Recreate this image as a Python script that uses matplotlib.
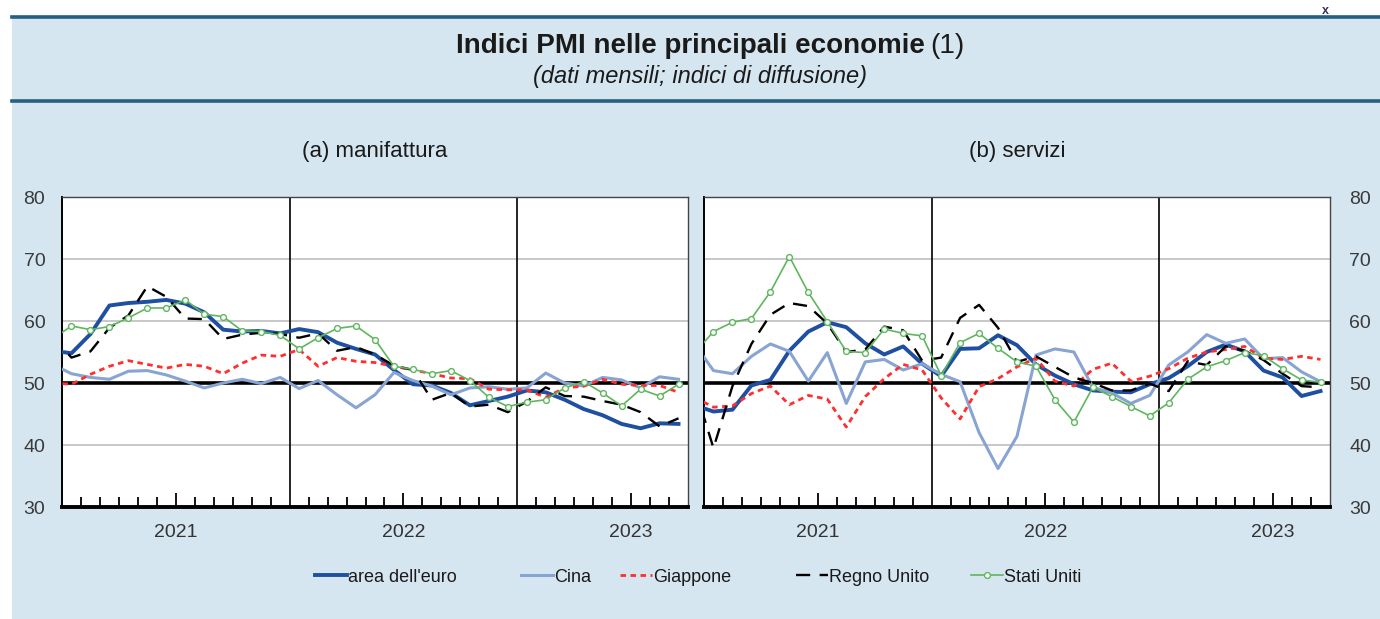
import numpy as np
import pandas as pd
import matplotlib
matplotlib.use("Agg")
import matplotlib.pyplot as plt
from matplotlib.lines import Line2D
from matplotlib.patches import Rectangle

plt.rcParams["font.family"] = ["Liberation Sans", "DejaVu Sans"]

# monthly data, Dec 2020 - Sep 2023 (Dec 2020 sits just left of the axis and gets clipped)
months = pd.period_range("2020-12", "2023-09", freq="M")
years = ["2021", "2022", "2023"]
labels = ["area dell'euro", "Cina", "Giappone", "Regno Unito", "Stati Uniti"]

# (a) manifattura
manuf_euro = [55.2, 54.8, 57.9, 62.5, 62.9, 63.1, 63.4, 62.8, 61.4, 58.6, 58.3, 58.4, 58.0,
              58.7, 58.2, 56.5, 55.5, 54.6, 52.1, 49.8, 49.6, 48.4, 46.4, 47.1, 47.8,
              48.8, 48.5, 47.3, 45.8, 44.8, 43.4, 42.7, 43.5, 43.4]
manuf_china = [53.0, 51.5, 50.9, 50.6, 51.9, 52.0, 51.3, 50.3, 49.2, 50.0, 50.6, 49.9, 50.9,
               49.1, 50.4, 48.1, 46.0, 48.1, 51.7, 50.4, 49.5, 48.1, 49.2, 49.4, 49.0,
               49.2, 51.6, 50.0, 49.5, 50.9, 50.5, 49.2, 51.0, 50.6]
manuf_japan = [50.0, 49.8, 51.4, 52.7, 53.6, 53.0, 52.4, 53.0, 52.7, 51.5, 53.2, 54.5, 54.3,
               55.4, 52.7, 54.1, 53.5, 53.3, 52.7, 52.1, 51.5, 50.8, 50.7, 49.0, 48.9,
               48.9, 47.7, 49.2, 49.5, 50.6, 49.8, 49.6, 49.6, 48.5]
manuf_uk = [57.5, 54.1, 55.1, 58.9, 60.9, 65.6, 63.9, 60.4, 60.3, 57.1, 57.8, 58.1, 57.9,
            57.3, 58.0, 55.2, 55.8, 54.6, 52.8, 52.1, 47.3, 48.4, 46.2, 46.5, 45.3,
            47.0, 49.3, 47.9, 47.8, 47.1, 46.5, 45.3, 43.0, 44.3]
manuf_us = [57.1, 59.2, 58.6, 59.1, 60.5, 62.1, 62.1, 63.4, 61.1, 60.7, 58.4, 58.3, 57.7,
            55.5, 57.3, 58.8, 59.2, 57.0, 52.7, 52.2, 51.5, 52.0, 50.4, 47.7, 46.2,
            46.9, 47.3, 49.2, 50.2, 48.4, 46.3, 49.0, 47.9, 49.8]

# (b) servizi
serv_euro = [46.4, 45.4, 45.7, 49.6, 50.5, 55.2, 58.3, 59.8, 59.0, 56.4, 54.6, 55.9, 53.1,
             51.1, 55.5, 55.6, 57.7, 56.1, 53.0, 51.2, 49.8, 48.8, 48.6, 48.5, 49.8,
             50.8, 52.7, 55.0, 56.2, 55.1, 52.0, 50.9, 47.9, 48.7]
serv_china = [56.3, 52.0, 51.5, 54.3, 56.3, 55.1, 50.3, 54.9, 46.7, 53.4, 53.8, 52.1, 53.1,
              51.4, 50.2, 42.0, 36.2, 41.4, 54.5, 55.5, 55.0, 49.3, 48.4, 46.7, 48.0,
              52.9, 55.0, 57.8, 56.4, 57.1, 53.9, 54.1, 51.8, 50.2]
serv_japan = [47.7, 46.1, 46.3, 48.3, 49.5, 46.5, 48.0, 47.4, 42.9, 47.8, 50.7, 53.0, 52.1,
              47.6, 44.2, 49.4, 50.7, 52.6, 54.0, 50.3, 49.5, 52.2, 53.2, 50.3, 51.1,
              52.3, 54.0, 55.0, 55.4, 55.9, 54.0, 53.8, 54.3, 53.8]
serv_uk = [49.4, 39.5, 49.5, 56.3, 61.0, 62.9, 62.4, 59.6, 55.0, 55.4, 59.1, 58.5, 53.6,
           54.1, 60.5, 62.6, 58.9, 53.4, 54.3, 52.6, 50.9, 50.0, 48.8, 48.8, 49.9,
           48.7, 53.5, 52.9, 55.9, 55.2, 53.7, 51.5, 49.5, 49.3]
serv_us = [54.8, 58.3, 59.8, 60.4, 64.7, 70.4, 64.6, 59.9, 55.1, 54.9, 58.7, 58.0, 57.6,
           51.2, 56.5, 58.0, 55.6, 53.4, 52.7, 47.3, 43.7, 49.3, 47.8, 46.2, 44.7,
           46.8, 50.6, 52.6, 53.6, 54.9, 54.4, 52.3, 50.5, 50.1]

styles = [
    dict(color="#1f4fa0", lw=2.8, solid_joinstyle="round"),
    dict(color="#88a4d2", lw=2.2),
    dict(color="#ff2f2f", lw=2.0, linestyle=(0, (2.0, 1.6))),
    dict(color="black", lw=1.7, linestyle=(0, (6, 4))),
    dict(color="#5fb65f", lw=1.2, marker="o", ms=4.2, mfc="white", mew=1.0),
]

BG = "#d6e6f0"
RULE = "#24607f"

x = (months.year - 2021) * 12 + months.month - 1 + 0.5
n_end = 33

fig = plt.figure(figsize=(13.8, 6.19), dpi=100, facecolor="white")
W, H = 1380, 619

fig.patches.append(Rectangle((12 / W, 0), 1 - 12 / W, 1 - 16 / H, transform=fig.transFigure,
                             facecolor=BG, edgecolor="none", zorder=-10))
for yy in (17, 101):
    fig.lines.append(Line2D([12 / W, 1], [1 - yy / H] * 2, transform=fig.transFigure,
                            color=RULE, lw=2.6, zorder=-5))
fig.text(1325 / W, 1 - 11 / H, "x", fontsize=9, fontweight="bold", color="#335", ha="center", va="center")

fig.text(925 / W, 1 - 46 / H, "Indici PMI nelle principali economie", fontsize=20, fontweight="bold",
         ha="right", va="center", color="#1a1a1a")
fig.text(930 / W, 1 - 46 / H, "(1)", fontsize=20, ha="left", va="center", color="#1a1a1a")
fig.text(700 / W, 1 - 77 / H, "(dati mensili; indici di diffusione)", fontsize=17, style="italic",
         ha="center", va="center", color="#1a1a1a")

panels = [
    ("(a) manifattura", [manuf_euro, manuf_china, manuf_japan, manuf_uk, manuf_us], 62, "left"),
    ("(b) servizi", [serv_euro, serv_china, serv_japan, serv_uk, serv_us], 704, "right"),
]

for title, series, left_px, side in panels:
    ax = fig.add_axes([left_px / W, 1 - 507 / H, 626 / W, 310 / H])
    ax.set_facecolor("white")
    ax.set_xlim(0, n_end)
    ax.set_ylim(30, 80)

    for v in (40, 60, 70):
        ax.axhline(v, color="#c4c4c4", lw=1.3, zorder=1)
    ax.axhline(50, color="black", lw=2.6, zorder=2)
    for b in (12, 24):
        ax.axvline(b, color="black", lw=1.2, zorder=2)

    for vals, st in zip(series, styles):
        ax.plot(x, vals, zorder=3, **st)

    ax.set_yticks([30, 40, 50, 60, 70, 80])
    ax.set_xticks([6, 18, 30])
    ax.set_xticklabels(years)
    ax.set_xticks([m for m in range(1, n_end) if m % 6 != 0], minor=True)
    ax.tick_params(axis="x", which="major", direction="in", length=10, width=1.3, pad=12,
                   labelsize=14, labelcolor="#333333")
    ax.tick_params(axis="x", which="minor", direction="in", length=7, width=1.3)
    if side == "left":
        ax.tick_params(axis="y", length=0, pad=12, labelsize=14, labelcolor="#3a3a3a")
    else:
        ax.yaxis.tick_right()
        ax.tick_params(axis="y", length=0, pad=14, labelsize=14, labelcolor="#3a3a3a")

    for s in ("top", "right"):
        ax.spines[s].set_color("#444444")
        ax.spines[s].set_linewidth(1.0)
    ax.spines["left"].set_linewidth(1.4)
    ax.spines["bottom"].set_linewidth(2.8)

    fig.text((left_px + 313) / W, 1 - 151 / H, title, fontsize=16, ha="center", va="center",
             color="#1a1a1a")

# legend entries laid out like the original (uneven spacing)
leg_x = [315, 521, 620, 796, 971]
for lab, st, lx in zip(labels, styles, leg_x):
    h = Line2D([], [], **st)
    fig.legend([h], [lab], loc="center left", bbox_to_anchor=(lx / W, 1 - 577 / H),
               frameon=False, fontsize=13, handlelength=1.75, handletextpad=0.1,
               borderpad=0, borderaxespad=0, numpoints=1, labelcolor="#1a1a1a")

fig.savefig("out.png", dpi=100, facecolor=fig.get_facecolor())
